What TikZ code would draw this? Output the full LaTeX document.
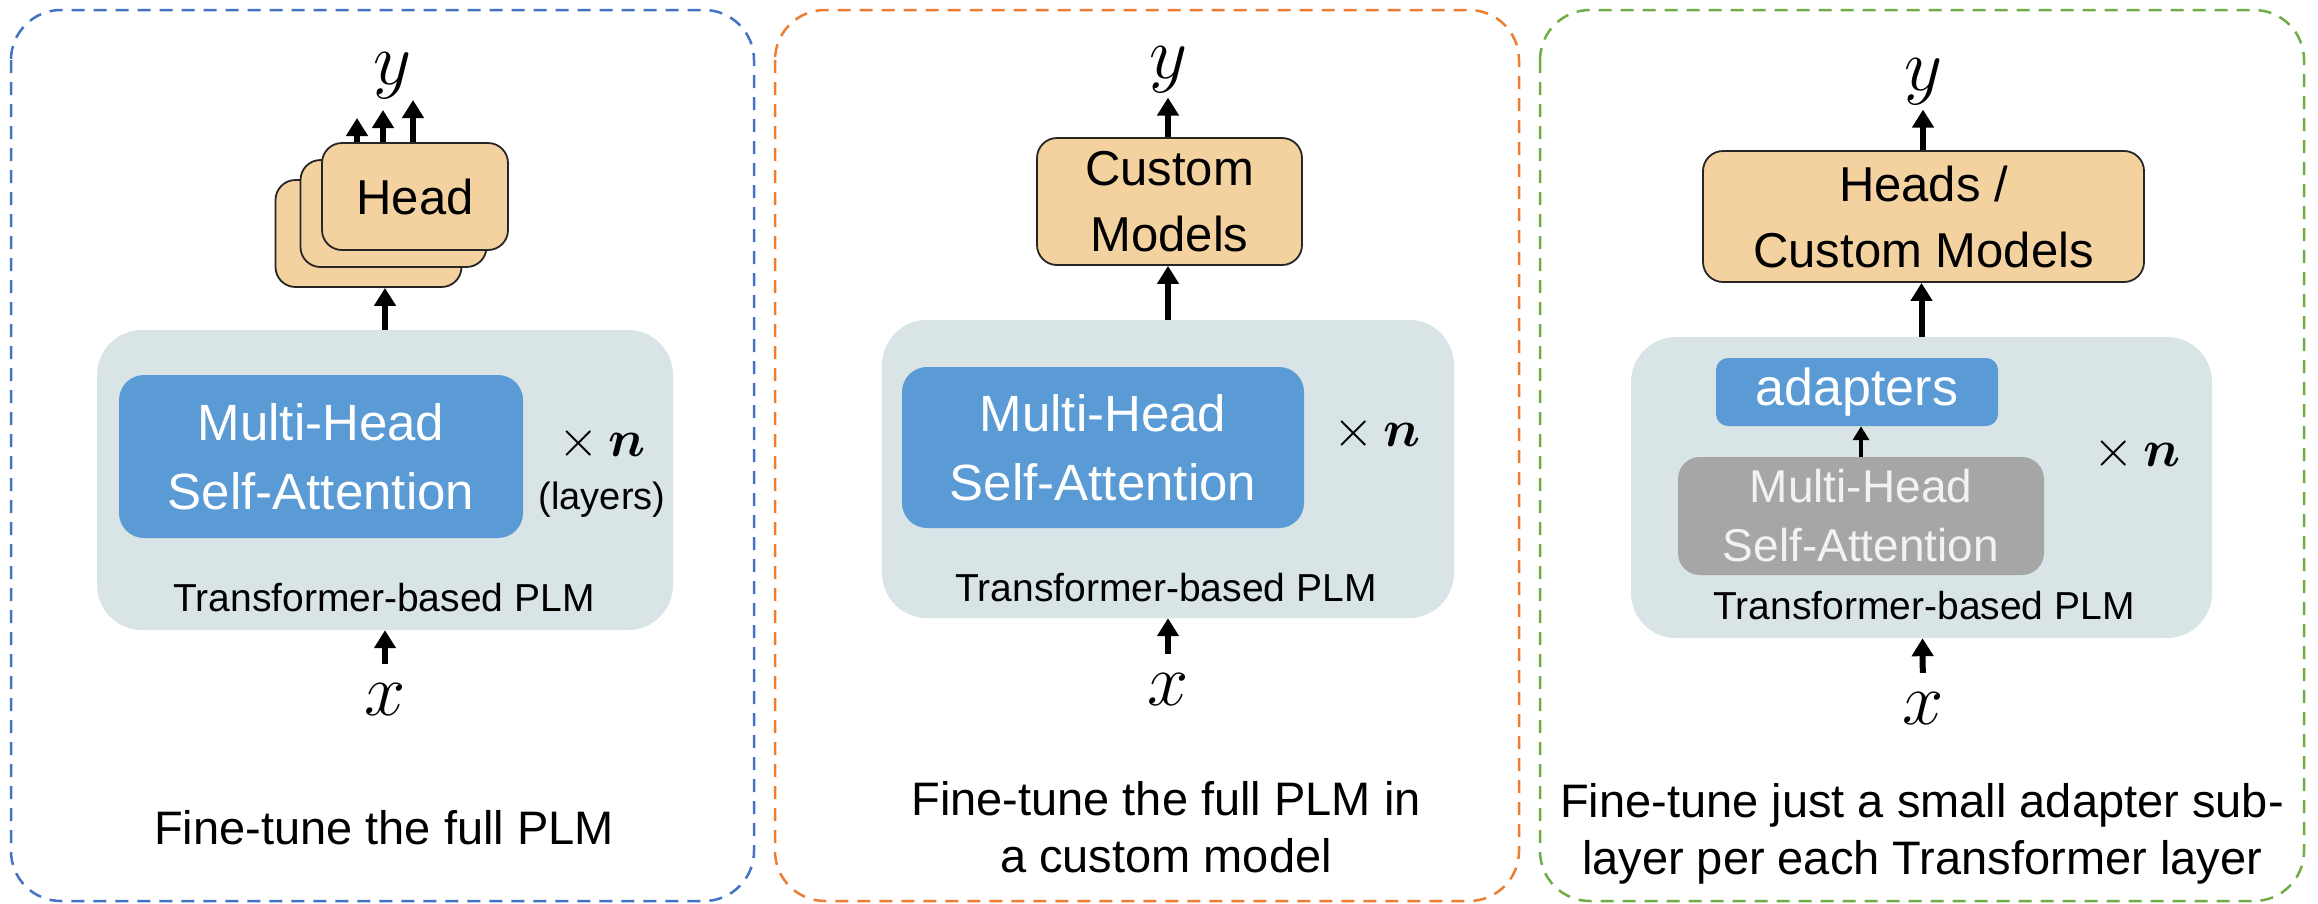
\RequirePackage{fix-cm}
\documentclass[tikz,border=0pt]{standalone}
\usepackage{amsmath}
\usepackage{fontspec}
\setmainfont{Liberation Sans}
\usepackage{tikz}
\usetikzlibrary{
    positioning,
    arrows.meta
}

\definecolor{frameblue}{HTML}{4472C4}
\definecolor{frameorange}{HTML}{ED7D31}
\definecolor{framegreen}{HTML}{70AD47}
\definecolor{plmgray}{HTML}{D8E4E5}
\definecolor{attnblue}{HTML}{5B9BD5}
\definecolor{headtan}{HTML}{F4D2A0}
\definecolor{frozengray}{HTML}{A6A6A6}

\newcommand{\txtcap}{\fontsize{47}{57}\selectfont}
\newcommand{\txtbox}{\fontsize{49}{66}\selectfont}
\newcommand{\txtattn}{\fontsize{51}{69}\selectfont}
\newcommand{\txtplm}{\fontsize{39}{45}\selectfont}
\newcommand{\txtlayer}{\fontsize{38}{44}\selectfont}
\newcommand{\txtvar}{\fontsize{74}{80}\selectfont}
\newcommand{\txtcount}{\fontsize{52}{60}\selectfont}

\tikzset{
    >=Stealth,
    panel/.style={
        line width=2.5pt,
        dash pattern=on 13pt off 9pt,
        rounded corners=50pt
    },
    plm/.style={
        fill=plmgray,
        rounded corners=45pt,
        inner sep=0pt
    },
    attn/.style={
        fill=attnblue,
        text=white,
        font=\txtattn,
        align=center,
        rounded corners=25pt,
        inner sep=0pt
    },
    head/.style={
        fill=headtan,
        draw=black!85,
        line width=1.8pt,
        font=\txtbox,
        align=center,
        rounded corners=20pt,
        minimum width=186pt,
        minimum height=107pt,
        inner sep=0pt
    },
    plmlabel/.style={font=\txtplm, anchor=base, inner sep=0pt},
    layercount/.style={font=\txtcount, inner sep=0pt},
    invar/.style={font=\txtvar, anchor=base, inner sep=19pt},
    outvar/.style={font=\txtvar, anchor=base, inner sep=5pt},
    caption/.style={font=\txtcap, align=center, inner sep=0pt},
    flow/.style={line width=6pt, -{Triangle[width=21pt,length=18pt]}},
    smallflow/.style={line width=4pt, -{Triangle[width=16pt,length=14pt]}}
}

\begin{document}
\begin{tikzpicture}[x=1pt, y=-1pt]

    \useasboundingbox (0,0) rectangle (2318,903);

    % Rahmen
    \draw[panel, frameblue]   (11,10)   rectangle (754,901);
    \draw[panel, frameorange] (775,10)  rectangle (1519,901);
    \draw[panel, framegreen]  (1540,10) rectangle (2304,901);

    % Teil 1: ganzes PLM
    \node[plm, minimum width=576pt, minimum height=300pt] (plmA) at (385,480) {};
    \node[attn, minimum width=404pt, minimum height=163pt] (attnA) at (321,456.5) {Multi-Head\\Self-Attention};
    \node[plmlabel] (plmtxtA) at (384,611) {Transformer-based PLM};
    \node[layercount] (nA) at (602,443) {$\times\,\boldsymbol{n}$};
    \node[font=\txtlayer, inner sep=0pt] (layersA) at (602,500) {(layers)};
    \node[head] (headA1) at (368.5,233.5) {};
    \node[head] (headA2) at (393.5,213.5) {};
    \node[head] (headA3) at (415,196.5) {Head};
    \node[invar]  (xA) at (385,715) {$x$};
    \node[outvar] (yA) at (392,84)  {$y$};
    \coordinate (tipA1) at (357,118);
    \coordinate (tipA2) at (383,110);
    \coordinate (tipA3) at (413,100);
    \node[caption, anchor=base] (capA) at (384,844) {Fine-tune the full PLM};

    \draw[flow] (xA) -- (plmA);
    \draw[flow] (plmA.north) -- (plmA.north |- headA1.south);
    \foreach \t in {1,2,3}
        \draw[flow] (headA3.north -| tipA\t) -- (tipA\t);

    % Teil 2: eigenes Modell
    \node[plm, minimum width=572pt, minimum height=298pt] (plmB) at (1168,469) {};
    \node[attn, minimum width=402pt, minimum height=161pt] (attnB) at (1103,447.5) {Multi-Head\\Self-Attention};
    \node[plmlabel] (plmtxtB) at (1166,601) {Transformer-based PLM};
    \node[layercount] (nB) at (1377,433) {$\times\,\boldsymbol{n}$};
    \node[head, minimum width=265pt, minimum height=127pt] (custB) at (1169.5,201.5) {Custom\\Models};
    \node[invar]  (xB) at (1168,705) {$x$};
    \node[outvar] (yB) at (1168,78)  {$y$};
    \node[caption, anchor=north] (capB) at (1166,781) {Fine-tune the full PLM in\\a custom model};

    \draw[flow] (xB) -- (plmB);
    \draw[flow] (plmB.north) -- (plmB.north |- custB.south);
    \draw[flow] (yB |- custB.north) -- (yB);

    % Teil 3: Adapter
    \node[plm, minimum width=581pt, minimum height=301pt] (plmC) at (1921.5,487.5) {};
    \node[attn, font=\fontsize{52}{60}\selectfont, rounded corners=12pt,
          minimum width=282pt, minimum height=68pt] (adaptC) at (1857,392) {adapters};
    \node[attn, fill=frozengray, text=white!95!black, font=\fontsize{46}{59}\selectfont,
          rounded corners=22pt, minimum width=366pt, minimum height=118pt] (attnC) at (1861,516) {Multi-Head\\Self-Attention};
    \node[plmlabel] (plmtxtC) at (1924,619) {Transformer-based PLM};
    \node[layercount] (nC) at (2137,453) {$\times\,\boldsymbol{n}$};
    \node[head, minimum width=441pt, minimum height=131pt] (headsC) at (1923.5,216.5) {Heads /\\Custom Models};
    \node[invar]  (xC) at (1923,724) {$x$};
    \node[outvar] (yC) at (1923,90)  {$y$};
    \node[caption, anchor=north] (capC) at (1922,783) {Fine-tune just a small adapter sub-\\layer per each Transformer layer};

    \draw[flow] (xC) -- (plmC);
    \draw[smallflow] (attnC.north) -- (attnC.north |- adaptC.south);
    \draw[flow] (plmC.north) -- (plmC.north |- headsC.south);
    \draw[flow] (yC |- headsC.north) -- (yC);

\end{tikzpicture}
\end{document}
